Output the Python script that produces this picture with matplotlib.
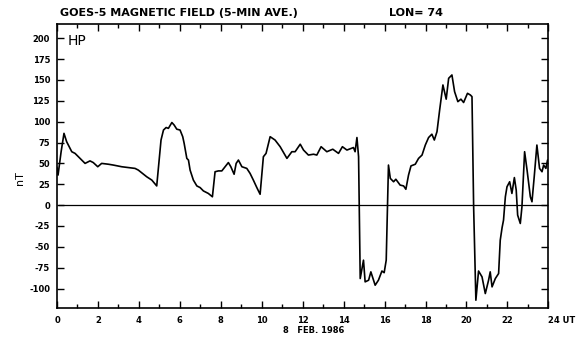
import numpy as np
import matplotlib.pyplot as plt

plt.rcParams['axes.unicode_minus'] = False

# GOES-5 HP component, 5-min averages (UT hours, nT)
hours = [0.0, 0.05, 0.2, 0.34, 0.47, 0.72, 0.88, 1.37, 1.61, 1.77, 1.99, 2.18, 2.51,
         2.75, 3.16, 3.81, 3.97, 4.38, 4.63, 4.87, 5.08, 5.20, 5.33, 5.44, 5.61,
         5.72, 5.85, 6.01, 6.14, 6.21, 6.34, 6.42, 6.50, 6.66, 6.83, 6.99, 7.15,
         7.39, 7.59, 7.72, 7.88, 8.05, 8.21, 8.37, 8.49, 8.65, 8.75, 8.86, 9.03,
         9.27, 9.43, 9.59, 9.76, 9.92, 10.08, 10.21, 10.41, 10.65, 10.90, 11.23,
         11.47, 11.63, 11.88, 12.04, 12.28, 12.53, 12.69, 12.90, 13.18, 13.47,
         13.75, 13.94, 14.16, 14.48, 14.56, 14.65, 14.73, 14.81, 14.97, 15.05,
         15.22, 15.33, 15.54, 15.70, 15.87, 15.98, 16.08, 16.14, 16.19, 16.28,
         16.44, 16.55, 16.76, 16.93, 17.04, 17.17, 17.29, 17.50, 17.66, 17.83,
         17.99, 18.15, 18.31, 18.43, 18.56, 18.69, 18.85, 19.01, 19.13, 19.29,
         19.42, 19.58, 19.73, 19.86, 20.05, 20.19, 20.27, 20.35, 20.46, 20.59,
         20.76, 20.92, 21.08, 21.16, 21.25, 21.41, 21.57, 21.65, 21.74, 21.81,
         21.90, 21.98, 22.11, 22.22, 22.34, 22.43, 22.50, 22.63, 22.71, 22.84,
         22.96, 23.12, 23.20, 23.31, 23.44, 23.57, 23.69, 23.77, 23.88, 23.96, 24.0]
hp = [45, 36, 64, 86, 76, 64, 62, 50, 53, 51, 46, 50, 49,
      48, 46, 44, 42, 34, 30, 23, 78, 90, 93, 92, 99,
      96, 91, 90, 82, 74, 56, 54, 42, 30, 23, 21, 17,
      14, 10, 40, 41, 41, 46, 51, 46, 37, 50, 54, 46,
      44, 38, 30, 21, 13, 58, 62, 82, 78, 70, 56,
      64, 64, 73, 66, 60, 61, 60, 70, 64, 67,
      62, 70, 66, 69, 64, 81, 58, -88, -66, -92,
      -90, -80, -96, -90, -79, -81, -66, -6, 48, 32,
      28, 31, 24, 23, 19, 36, 47, 49, 56, 60,
      72, 81, 85, 78, 88, 114, 144, 127, 152, 156,
      136, 124, 127, 123, 134, 132, 130, -2, -114, -79,
      -86, -106, -90, -80, -98, -88, -82, -42, -27, -18,
      10, 22, 28, 14, 33, 18, -12, -22, -2, 64,
      42, 10, 4, 34, 72, 44, 40, 48, 44, 54, 53]

xticks = list(range(0, 25, 2))
yticks = list(range(-100, 201, 25))

fig = plt.figure(figsize=(5.76, 3.39), dpi=100)
ax = fig.add_axes([0.099, 0.091, 0.853, 0.838])

ax.axhline(0, xmin=0.004, xmax=1, color='black', lw=0.9)
ax.plot(hours, hp, color='black', lw=1.2)

ax.set_xlim(0, 24)
ax.set_ylim(-123.5, 217)
for s in ax.spines.values():
    s.set_linewidth(1.2)

ax.set_xticks(xticks)
ax.set_xticks(range(0, 25), minor=True)
ax.set_yticks(yticks)
ax.set_yticklabels([str(t) for t in yticks])
ax.set_xticklabels([str(t) for t in xticks[:-1]] + ['24 UT'])
ax.tick_params(axis='both', which='both', direction='in', top=True, right=True,
               labelsize=6, width=1.0)
ax.tick_params(which='major', length=5)
ax.tick_params(which='minor', length=3)
ax.tick_params(axis='x', pad=6)
ax.tick_params(axis='y', pad=5)
for lab in ax.get_xticklabels() + ax.get_yticklabels():
    lab.set_fontweight('bold')
ax.get_xticklabels()[-1].set_horizontalalignment('left')
ax.get_xticklabels()[-1].set_x(23.9)

ax.text(0.5, 197, 'HP', fontsize=10, va='center')
fig.text(0.035, 0.475, 'nT', fontsize=8, rotation=90, va='center', ha='center')

fig.text(0.104, 0.962, 'GOES-5 MAGNETIC FIELD (5-MIN AVE.)', fontsize=8,
         fontweight='bold', va='center')
fig.text(0.676, 0.962, 'LON= 74', fontsize=8, fontweight='bold', va='center')
fig.text(0.491, 0.024, '8   FEB. 1986', fontsize=6, fontweight='bold', va='center')

fig.savefig('out.png', dpi=100)
